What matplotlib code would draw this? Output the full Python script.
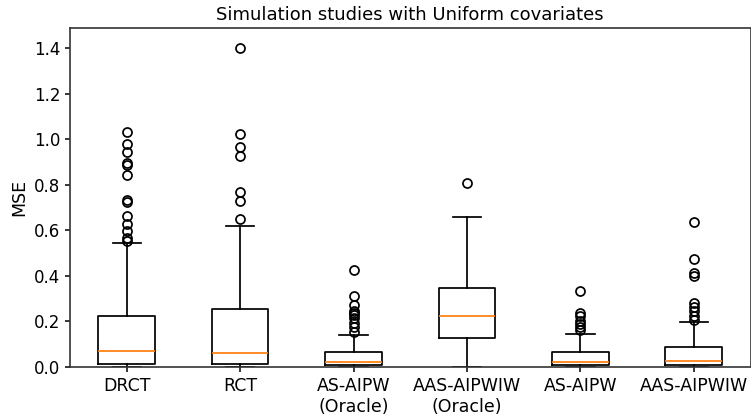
import matplotlib
matplotlib.use("Agg")
import matplotlib.pyplot as plt

labels = ["DRCT", "RCT", "AS-AIPW\n(Oracle)", "AAS-AIPWIW\n(Oracle)", "AS-AIPW", "AAS-AIPWIW"]
q1 = [0.015, 0.012, 0.008, 0.129, 0.008, 0.008]
med = [0.070, 0.062, 0.020, 0.224, 0.021, 0.027]
q3 = [0.226, 0.255, 0.064, 0.348, 0.065, 0.086]
whislo = [0.0, 0.0, 0.0, 0.001, 0.0, 0.0]
whishi = [0.543, 0.620, 0.141, 0.658, 0.144, 0.198]
fliers = [
    [1.031, 0.979, 0.946, 0.898, 0.887, 0.843, 0.732, 0.726, 0.663, 0.627, 0.597, 0.565, 0.553],
    [1.404, 1.022, 0.967, 0.927, 0.769, 0.729, 0.651],
    [0.426, 0.310, 0.274, 0.244, 0.237, 0.229, 0.215, 0.192, 0.174, 0.155],
    [0.807],
    [0.333, 0.237, 0.222, 0.204, 0.189, 0.175, 0.163],
    [0.636, 0.475, 0.411, 0.402, 0.281, 0.263, 0.244, 0.225, 0.208],
]

stats = []
for i, lab in enumerate(labels):
    stats.append(dict(label=lab, q1=q1[i], med=med[i], q3=q3[i],
                      whislo=whislo[i], whishi=whishi[i], fliers=fliers[i]))

lw = 1.25
fig = plt.figure(figsize=(7.51, 4.18), dpi=100)
ax = fig.add_axes([70 / 751, 51 / 418, 680.5 / 751, 339 / 418])
ax.bxp(stats, showfliers=True,
       boxprops=dict(linewidth=lw, color="black"),
       whiskerprops=dict(linewidth=lw, color="black"),
       capprops=dict(linewidth=lw, color="black"),
       medianprops=dict(linewidth=lw, color="#ff7f0e"),
       flierprops=dict(marker="o", markersize=6.5, markeredgewidth=lw,
                       markerfacecolor="none", markeredgecolor="black"))
ax.set_ylim(0, 1.49)
for s in ax.spines.values():
    s.set_linewidth(1.2)
    s.set_color("#333333")
ax.set_title("Simulation studies with Uniform covariates", fontsize=13)
ax.set_ylabel("MSE", fontsize=12.5)
ax.tick_params(axis="x", labelsize=12.5, width=1.1)
ax.tick_params(axis="y", labelsize=12, width=1.1)
fig.savefig("out.png", dpi=100)
